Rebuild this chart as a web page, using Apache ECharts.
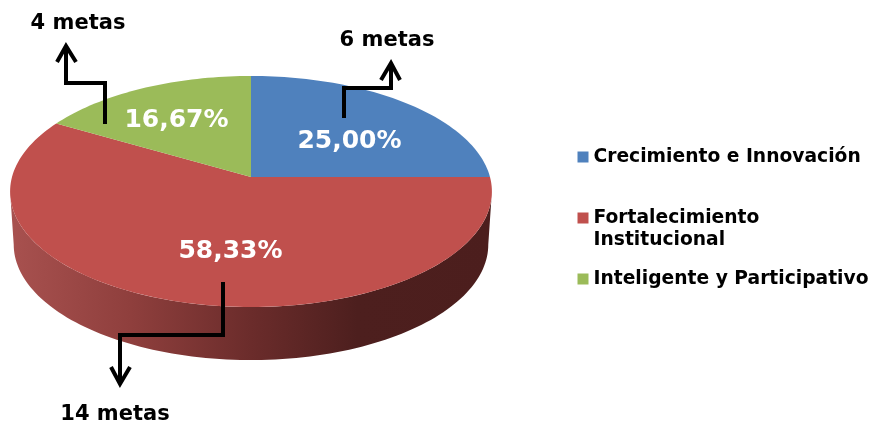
<!DOCTYPE html>
<html>
<head>
<meta charset="utf-8">
<style>
  html, body { margin: 0; padding: 0; background: #fff; }
  #chart { width: 871px; height: 423px; }
</style>
</head>
<body>
<div id="chart"></div>
<script src="https://cdn.jsdelivr.net/npm/echarts@6/dist/echarts.min.js"></script>
<script>
// datos del gráfico
const categories = ['Crecimiento e Innovación', 'Fortalecimiento Institucional', 'Inteligente y Participativo']
const shares = [25.00, 58.33, 16.67]
const goals = [6, 14, 4]
const colors = ['#4f81bd', '#c0504d', '#9bbb59']

const font = '"DejaVu Sans", Verdana, sans-serif'

// geometria de la torta en perspectiva
const pie = { cx: 251, cy: 177, rx: 239, ry: 113.7, tilt: 0.1255, depth: 53, baseScale: 0.985 }
// posicion de cada porcentaje (centro del texto): azul, rojo, verde
const labelPos = [[349.5, 141], [230.5, 251], [176.5, 120]]

const total = shares.reduce((a, b) => a + b, 0)
// angulo donde la cara superior alcanza su ancho maximo (borde de la silueta)
const edgeDeg = Math.asin(pie.tilt) * 180 / Math.PI

function facePoint (deg, drop, scale) {
  const t = deg * Math.PI / 180
  const s = 1 / (1 - pie.tilt * Math.sin(t))
  return [pie.cx + pie.rx * (scale || 1) * Math.cos(t) * s, pie.cy + pie.ry * Math.sin(t) * s + (drop || 0)]
}

function arc (from, to, drop, scale) {
  const pts = []
  const n = Math.max(2, Math.ceil(Math.abs(to - from) / 1.5))
  for (let i = 0; i <= n; i++) pts.push(facePoint(from + (to - from) * i / n, drop, scale))
  return pts
}

function renderSlice (params) {
  const idx = params.seriesIndex
  const before = shares.slice(0, idx).reduce((a, b) => a + b, 0)
  const start = -90 + before / total * 360
  const end = start + shares[idx] / total * 360
  const children = []

  // pared lateral: solo la parte frontal visible
  const wallFrom = Math.max(start, edgeDeg)
  const wallTo = Math.min(end, 180 - edgeDeg)
  if (wallTo > wallFrom) {
    children.push({
      type: 'polygon',
      shape: { points: arc(wallFrom, wallTo, 0).concat(arc(wallTo, wallFrom, pie.depth, pie.baseScale)) },
      style: {
        fill: new echarts.graphic.LinearGradient(10, 0, 492, 0, [
          { offset: 0, color: '#a8514f' },
          { offset: 0.25, color: '#8f3f3d' },
          { offset: 0.5, color: '#6b2c2b' },
          { offset: 0.72, color: '#4d1f1e' },
          { offset: 1, color: '#4c1e1d' }
        ], true)
      }
    })
  }

  children.push({
    type: 'polygon',
    shape: { points: [[pie.cx, pie.cy]].concat(arc(start, end, 0)) },
    style: { fill: colors[idx] }
  })

  children.push({
    type: 'text',
    z2: 10,
    style: {
      x: labelPos[idx][0],
      y: labelPos[idx][1],
      text: shares[idx].toFixed(2).replace('.', ',') + '%',
      fill: '#fff',
      font: 'bold 25px ' + font,
      align: 'center',
      verticalAlign: 'middle'
    }
  })
  return { type: 'group', children }
}

// flechas escalonadas con su texto
function arrow (points, head) {
  const line = { stroke: '#000', lineWidth: 4, fill: null, lineJoin: 'miter' }
  return [
    { type: 'polyline', shape: { points }, style: line, z: 20 },
    { type: 'polyline', shape: { points: head }, style: line, z: 20 }
  ]
}

function goalText (i, x, y) {
  return {
    type: 'text',
    x,
    y,
    z: 20,
    style: { text: goals[i] + ' metas', fill: '#000', font: 'bold 21px ' + font, align: 'center', verticalAlign: 'middle' }
  }
}

const graphicItems = [
  ...arrow([[344, 118], [344, 88], [391, 88], [391, 63]], [[381, 80], [391, 63], [400, 80]]),
  ...arrow([[223, 282], [223, 335], [120, 335], [120, 384]], [[111, 367], [120, 384], [130, 367]]),
  ...arrow([[105, 124], [105, 83], [66, 83], [66, 46]], [[57, 62], [66, 46], [76, 62]]),
  goalText(0, 387, 41),
  goalText(1, 115, 415),
  goalText(2, 78, 24)
]

function legendFor (i, top, extra) {
  return Object.assign({
    data: [categories[i]],
    left: 577.5,
    top,
    padding: 0,
    orient: 'vertical',
    icon: 'rect',
    itemWidth: 11,
    itemHeight: 11,
    selectedMode: false,
    textStyle: { color: '#000', fontFamily: font, fontWeight: 'bold', fontSize: 18.7, lineHeight: 22 }
  }, extra)
}

const chart = echarts.init(document.getElementById('chart'), null, { renderer: 'canvas' })
chart.setOption({
  animation: false,
  backgroundColor: '#fff',
  legend: [
    legendFor(0, 146),
    // la primera linea en blanco deja el cuadrito a la altura de "Fortalecimiento"
    legendFor(1, 185, { formatter: () => ' \nFortalecimiento\nInstitucional' }),
    legendFor(2, 268)
  ],
  graphic: { elements: graphicItems },
  series: categories.map((name, i) => ({
    type: 'custom',
    name,
    coordinateSystem: 'none',
    silent: true,
    itemStyle: { color: colors[i] },
    renderItem: renderSlice,
    data: [shares[i]]
  }))
})
</script>
</body>
</html>
